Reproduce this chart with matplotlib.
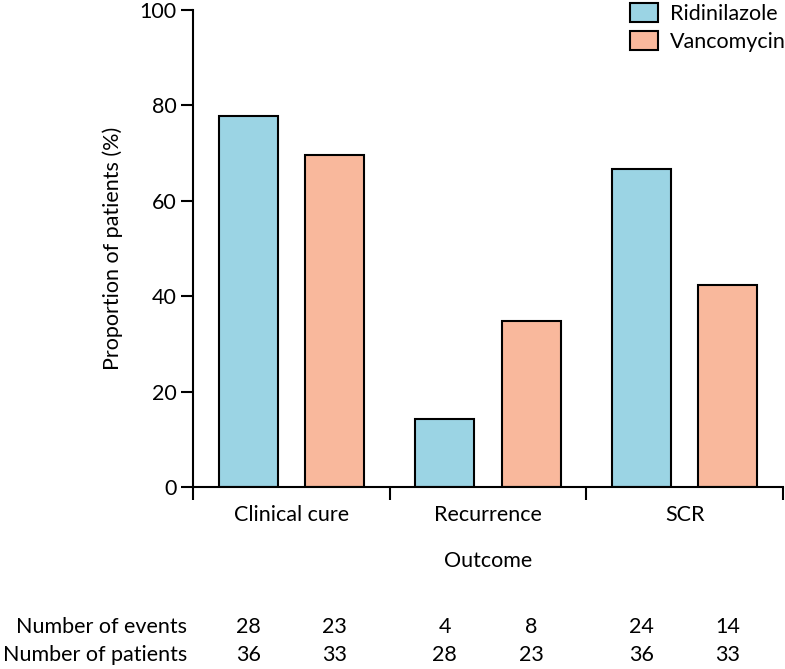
import numpy as np
import matplotlib
matplotlib.use("Agg")
import matplotlib.pyplot as plt
from matplotlib.transforms import blended_transform_factory

plt.rcParams['font.family'] = ['Lato', 'DejaVu Sans']

# ---------------------------------------------------------------------------
# Datos
# ---------------------------------------------------------------------------
outcomes = ['Clinical cure', 'Recurrence', 'SCR']
groups = ['Ridinilazole', 'Vancomycin']
events_rid = [28, 4, 24]
events_van = [23, 8, 14]
patients_rid = [36, 28, 36]
patients_van = [33, 23, 33]
pct_rid = [77.8, 14.3, 66.7]
pct_van = [69.7, 34.8, 42.4]

BLUE = '#9bd4e4'
SALMON = '#f9b89c'
FS = 15.5

fig = plt.figure(figsize=(7.85, 6.69), dpi=100)
ax = fig.add_axes([0.2459, 0.272, 0.7516, 0.713])

x = np.arange(len(outcomes))
w = 0.30
pos_rid = x + 0.28
pos_van = x + 0.72
ax.bar(pos_rid, pct_rid, w, color=BLUE, edgecolor='black', linewidth=1.5,
       label=groups[0], zorder=2)
ax.bar(pos_van, pct_van, w, color=SALMON, edgecolor='black', linewidth=1.5,
       label=groups[1], zorder=2)

ax.set_xlim(0, 3)
ax.set_ylim(0, 100)
ax.set_yticks([0, 20, 40, 60, 80, 100])
ax.set_xticks([0, 1, 2, 3])
ax.set_xticklabels([])
ax.set_xticks(x + 0.5, minor=True)
ax.set_xticklabels(outcomes, minor=True)
ax.tick_params(axis='x', which='minor', length=0, pad=13, labelsize=FS)
ax.tick_params(axis='x', which='major', length=9, width=1.5)
ax.tick_params(axis='y', length=9, width=1.5, labelsize=FS, pad=3)

for s in ['top', 'right']:
    ax.spines[s].set_visible(False)
for s in ['left', 'bottom']:
    ax.spines[s].set_linewidth(1.5)

ax.set_ylabel('Proportion of patients (%)', fontsize=FS, labelpad=12)
ax.set_xlabel('Outcome', fontsize=FS, labelpad=19)

leg = ax.legend(loc='upper right', bbox_to_anchor=(1.037, 1.055), frameon=False,
                fontsize=FS, handlelength=1.3, handleheight=1.0,
                handletextpad=0.55, labelspacing=0.3)

# tabla inferior
trans = blended_transform_factory(ax.transData, fig.transFigure)
y_ev = 1 - 627 / 669
y_pt = 1 - 655 / 669
fig.text(187 / 785, y_ev, 'Number of events', ha='right', va='center', fontsize=FS)
fig.text(187 / 785, y_pt, 'Number of patients', ha='right', va='center', fontsize=FS)
for i in range(len(outcomes)):
    ax.text(pos_rid[i], y_ev, str(events_rid[i]), transform=trans,
            ha='center', va='center', fontsize=FS)
    ax.text(pos_van[i], y_ev, str(events_van[i]), transform=trans,
            ha='center', va='center', fontsize=FS)
    ax.text(pos_rid[i], y_pt, str(patients_rid[i]), transform=trans,
            ha='center', va='center', fontsize=FS)
    ax.text(pos_van[i], y_pt, str(patients_van[i]), transform=trans,
            ha='center', va='center', fontsize=FS)

fig.savefig('out.png', dpi=100)
